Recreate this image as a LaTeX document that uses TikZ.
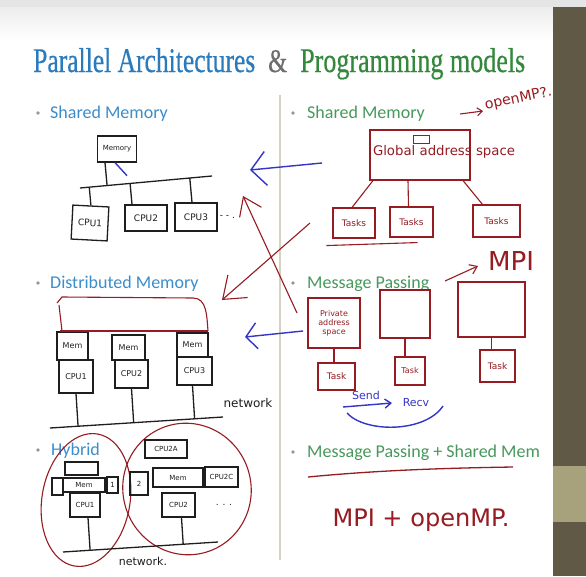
\documentclass[tikz,border=0pt]{standalone}
\usepackage{fontspec}
\setmainfont{Liberation Serif}
\newfontfamily\titlefont[FakeBold=0.5]{Liberation Serif}
\newfontfamily\bodyfont{Carlito}
\newfontfamily\handfont{DejaVu Sans}
\usetikzlibrary{arrows.meta,calc,shapes.geometric}
\definecolor{tblue}{RGB}{42,122,188}
\definecolor{tgreen}{RGB}{52,136,62}
\definecolor{bblue}{RGB}{60,141,203}
\definecolor{bgreen}{RGB}{72,152,92}
\definecolor{ampc}{RGB}{110,110,110}
\definecolor{ink}{RGB}{30,30,30}
\definecolor{rink}{RGB}{150,28,34}
\definecolor{bink}{RGB}{52,52,200}
\definecolor{stripc}{RGB}{96,89,70}
\definecolor{bandc}{RGB}{168,162,124}
\definecolor{dividerc}{RGB}{214,210,192}
\definecolor{bulletc}{RGB}{150,150,150}
\tikzset{
 ttl/.style={anchor=base west, inner sep=0pt, font=\titlefont},
 item/.style={anchor=base west, inner sep=0pt, font=\bodyfont\fontsize{18}{18}\selectfont},
 bdot/.style={circle, fill=bulletc, inner sep=0pt, minimum size=3.6pt},
 bbox/.style={draw=ink, line width=1.3pt, inner sep=0pt, text=ink, align=center},
 rbox/.style={draw=rink, line width=1.1pt, inner sep=0pt, text=rink, align=center},
 bline/.style={draw=ink, line width=1.3pt},
 rline/.style={draw=rink, line width=1.1pt},
 blline/.style={draw=bink, line width=1.4pt},
 htext/.style={inner sep=0pt, font=\handfont},
 fsa/.style={font=\handfont\fontsize{7}{8}\selectfont},
 fsb/.style={font=\handfont\fontsize{8}{9}\selectfont},
 fsc/.style={font=\handfont\fontsize{9}{10}\selectfont},
 fsd/.style={font=\handfont\fontsize{11}{12}\selectfont},
 fse/.style={font=\handfont\fontsize{12}{13}\selectfont},
}
\begin{document}
\begin{tikzpicture}[x=1pt,y=-1pt]
\useasboundingbox (0,0) rectangle (586,576);
% background
\fill[white] (0,0) rectangle (586,576);
\shade[top color=black!9, bottom color=white] (0,0) rectangle (553,40);
\fill[black!10] (0,0) rectangle (586,7);
\fill[stripc] (553,7) rectangle (586,576);
\fill[bandc] (553,466) rectangle (586,522);
\draw[dividerc, line width=1.2pt] (280,95) -- (280,560);
% title
\node[ttl, text=tblue] (ttl1) at (33,72) {\resizebox{222pt}{24pt}{Parallel Architectures}};
\node[ttl, text=ampc] (ttl2) at (268,72) {\resizebox{19pt}{22pt}{\&}};
\node[ttl, text=tgreen] (ttl3) at (300,72) {\resizebox{225pt}{24pt}{Programming models}};
% bullets
\node[bdot] (d1) at (38,113) {};
\node[item, text=bblue] (arch1) at (50,118) {Shared Memory};
\node[bdot] (d2) at (293,113) {};
\node[item, text=bgreen] (prog1) at (307,118) {Shared Memory};
\node[bdot] (d3) at (38,283) {};
\node[item, text=bblue] (arch2) at (50,288) {Distributed Memory};
\node[bdot] (d4) at (293,283) {};
\node[item, text=bgreen] (prog2) at (307,288) {Message Passing};
\node[bdot] (d5) at (38,450) {};
\node[item, text=bblue] (arch3) at (51,455) {Hybrid};
\node[bdot] (d6) at (293,452) {};
\node[item, text=bgreen] (prog3) at (307,457) {Message Passing + Shared Mem};

% ---- shared memory architecture
\node[bbox, minimum width=39pt, minimum height=26pt, fsa] (smem) at (117,149) {Memory};
\coordinate (busL) at (80,188);
\coordinate (busR) at (212,176);
\draw[bline] (busL) -- (busR);
\draw[bline] ([xshift=-12pt]smem.south) -- ($(busL)!([xshift=-12pt]smem.south)!(busR)$);
\draw[blline] ([xshift=-2pt]smem.south) -- ++(12,13);
\node[bbox, minimum width=36pt, minimum height=34pt, rotate=-3, fsc] (scpu1) at (90,223) {CPU1};
\node[bbox, minimum width=42pt, minimum height=26pt, fsc] (scpu2) at (146,218) {CPU2};
\node[bbox, minimum width=42pt, minimum height=28pt, fsc] (scpu3) at (196,217) {CPU3};
\draw[bline] (scpu1.north) -- ($(busL)!(scpu1.north)!(busR)$);
\draw[bline] ([xshift=-14pt]scpu2.north) -- ($(busL)!([xshift=-14pt]scpu2.north)!(busR)$);
\draw[bline] ([xshift=-4pt]scpu3.north) -- ($(busL)!([xshift=-4pt]scpu3.north)!(busR)$);
\node[htext, fsc, text=ink, anchor=west] (sdots) at ([xshift=2pt]scpu3.east) {- - .};

% ---- middle arrows
\coordinate (a1s) at (322,163); \coordinate (a1e) at (250,170);
\draw[blline, -{Straight Barb[length=15pt,width=34pt]}] (a1s) -- (a1e);
\coordinate (r1s) at (297,313); \coordinate (r1e) at (243,196);
\draw[rline, -{Straight Barb[length=17pt,width=24pt]}] (r1s) -- (r1e);
\coordinate (r2s) at (310,223); \coordinate (r2e) at (222,300);
\draw[rline, -{Straight Barb[length=20pt,width=30pt]}] (r2s) -- (r2e);
\coordinate (a2s) at (303,331); \coordinate (a2e) at (245,337);
\draw[blline, -{Straight Barb[length=11pt,width=26pt]}] (a2s) -- (a2e);

% ---- distributed memory
\node[bbox, minimum width=31pt, minimum height=28pt, fsb] (dm1) at (72.5,346) {Mem};
\node[bbox, minimum width=34pt, minimum height=33pt, fsb] (dc1) at (76,376.5) {CPU1};
\node[bbox, minimum width=33pt, minimum height=25pt, fsb] (dm2) at (128.5,347.5) {Mem};
\node[bbox, minimum width=33pt, minimum height=28pt, fsb] (dc2) at (131.5,374) {CPU2};
\node[bbox, minimum width=31pt, minimum height=24pt, fsb] (dm3) at (192.5,345) {Mem};
\node[bbox, minimum width=35pt, minimum height=28pt, fsb] (dc3) at (194.5,371) {CPU3};
\coordinate (dnL) at (50,428); \coordinate (dnR) at (223,417);
\draw[bline] (dnL) -- (dnR);
\draw[bline] (dc1.south) -- ($(dnL)!(dc1.south)!(dnR)$);
\draw[bline] (dc2.south) -- ($(dnL)!(dc2.south)!(dnR)$);
\draw[bline] ([xshift=-2pt]dc3.south) -- ($(dnL)!([xshift=-2pt]dc3.south)!(dnR)$);
\draw[rline] (57,303) -- (62,297) -- (193,298) to[out=0,in=95] (208,331);
\draw[rline] (59,305) -- (62,331);
\draw[rline] (60,331) -- (208,331);
\node[htext, fse, text=ink] (dnet) at (248,403) {network};

% ---- shared memory programming model
\node[rbox, minimum width=100pt, minimum height=50pt] (gas) at (420,155) {};
\node[htext, text=rink] (gastxt) at (444,152) {\resizebox{142pt}{!}{Global address space}};
\node[rbox, line width=0.7pt, minimum width=16pt, minimum height=8pt] (gtiny) at (421,139) {};
\node[rbox, minimum width=42pt, minimum height=30pt, fsc] (tk1) at (354,223) {Tasks};
\node[rbox, minimum width=43pt, minimum height=30pt, fsc] (tk2) at (411.5,222) {Tasks};
\node[rbox, minimum width=47pt, minimum height=32pt, fsc] (tk3) at (496.5,221) {Tasks};
\draw[rline] ([xshift=-47pt]gas.south) -- ([xshift=-2pt]tk1.north);
\draw[rline] ([xshift=-12pt]gas.south) -- ([xshift=-3pt]tk2.north);
\draw[rline] ([xshift=43pt]gas.south) -- ([xshift=-14pt]tk3.north);
\draw[rline] ([shift={(-6,7)}]tk1.south west) -- ([shift={(-16,5)}]tk2.south east);
\coordinate (omA) at (460,114); \coordinate (omB) at (483,111);
\draw[rline, -{Straight Barb[length=5pt,width=8pt]}] (omA) -- (omB);
\node[htext, text=rink, rotate=12, anchor=west] (omp) at (485,106) {\resizebox{68pt}{!}{openMP?.}};

% ---- message passing
\node[rbox, minimum width=52pt, minimum height=50pt, fsb] (pas) at (334,323) {Private\\address\\space};
\node[rbox, minimum width=50pt, minimum height=48pt] (mb2) at (405,314) {};
\node[rbox, minimum width=67pt, minimum height=55pt] (mb3) at (491.5,309.5) {};
\node[rbox, minimum width=37pt, minimum height=27pt, fsc] (mt1) at (336.5,376.5) {Task};
\node[rbox, minimum width=30pt, minimum height=28pt, fsb] (mt2) at (410,371) {Task};
\node[rbox, minimum width=35pt, minimum height=32pt, fsc] (mt3) at (497.5,366) {Task};
\draw[rline] (pas.south) -- (pas.south |- mt1.north);
\draw[rline] (mb2.south) -- (mb2.south |- mt2.north);
\draw[rline] (mb3.south) -- (mb3.south |- mt3.north);
\coordinate (mpA) at (445,281); \coordinate (mpB) at (478,266);
\draw[rline, -{Straight Barb[length=7pt,width=10pt]}] (mpA) -- (mpB);
\node[htext, text=rink, font=\handfont\fontsize{18}{18}\selectfont] (mpi) at (511,261) {\resizebox{46pt}{19pt}{MPI}};
\node[htext, text=bink, fsd] (send) at (366,395) {Send};
\node[htext, text=bink, fsd] (recv) at (416,403) {Recv};
\draw[blline, -{Straight Barb[length=6pt,width=9pt]}] ([shift={(-23,12)}]send.center) -- ([shift={(26,8)}]send.center);
\draw[blline] (347,413) .. controls (365,433) and (425,433) .. (443,406);

% ---- hybrid
\node[draw=rink, line width=1.1pt, ellipse, minimum width=88pt, minimum height=134pt, rotate=-10, inner sep=0pt] (hlo) at (86,500) {};
\node[draw=rink, line width=1.1pt, ellipse, minimum width=128pt, minimum height=132pt, rotate=20, inner sep=0pt] (hro) at (187,489) {};
\node[bbox, minimum width=33pt, minimum height=13pt] (hb0) at (81.5,468.5) {};
\node[bbox, minimum width=42pt, minimum height=14pt, fsa] (hmem) at (84,485) {Mem};
\node[bbox, minimum width=11pt, minimum height=17pt] (hl1) at (57.5,486.5) {};
\node[bbox, minimum width=11pt, minimum height=16pt, fsa] (hr1) at (112.5,485) {1};
\node[bbox, minimum width=30pt, minimum height=24pt, fsa] (hcpu1) at (85,505) {CPU1};
\node[bbox, minimum width=42pt, minimum height=18pt, fsa] (h2a) at (166,449) {CPU2A};
\node[bbox, minimum width=18pt, minimum height=23pt, fsa] (h2s) at (139,483.5) {2};
\node[bbox, minimum width=50pt, minimum height=19pt, fsa] (h2mem) at (178,477.5) {Mem};
\node[bbox, minimum width=33pt, minimum height=20pt, fsa] (h2c) at (221.5,477) {CPU2C};
\node[bbox, minimum width=33pt, minimum height=24pt, fsa] (h2cpu) at (178.5,505) {CPU2};
\node[htext, fsc, text=ink, anchor=west] (hdots) at ([xshift=20pt]h2cpu.east) {. . .};
\coordinate (hnL) at (63,552); \coordinate (hnR) at (218,542);
\draw[bline] (hnL) -- (hnR);
\draw[bline] ([xshift=3pt]hcpu1.south) -- ($(hnL)!([xshift=3pt]hcpu1.south)!(hnR)$);
\draw[bline] ([xshift=3pt]h2cpu.south) -- ($(hnL)!([xshift=3pt]h2cpu.south)!(hnR)$);
\node[htext, fsd, text=ink] (hnet) at (143,561) {network.};

% ---- MPI + openMP
\draw[rline, line width=1.3pt] (308,477) .. controls (380,470) and (450,468) .. (513,467);
\node[htext, text=rink] (mpo) at (421,520) {\resizebox{177pt}{!}{MPI + openMP.}};
\end{tikzpicture}
\end{document}
